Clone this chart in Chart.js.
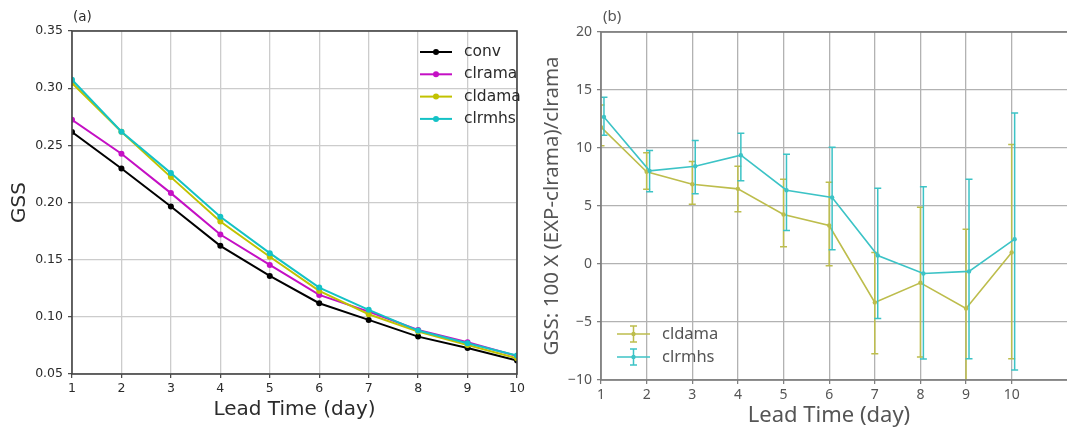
<!DOCTYPE html>
<html>
<head>
<meta charset="utf-8">
<script src="https://cdn.jsdelivr.net/npm/chart.js@4.4.0/dist/chart.umd.min.js"></script>
<style>
html, body { margin: 0; padding: 0; background: #fff; overflow: hidden; }
#wrap { position: relative; width: 1067px; height: 429px; overflow: hidden; }
#gssChart { position: absolute; left: 0; top: 0; }
#pctChart { position: absolute; left: 540px; top: 0; }
</style>
</head>
<body>
<div id="wrap">
  <canvas id="gssChart" width="540" height="429"></canvas>
  <canvas id="pctChart" width="535" height="429"></canvas>
</div>
<script>
// lead time in days
const days = [1, 2, 3, 4, 5, 6, 7, 8, 9, 10];

// (a) GSS per experiment
const gssConv   = [0.2616, 0.2298, 0.1965, 0.1621, 0.1358, 0.1119, 0.0973, 0.0827, 0.0728, 0.0617];
const gssClrama = [0.2724, 0.2426, 0.2082, 0.1720, 0.1454, 0.1192, 0.1046, 0.0885, 0.0778, 0.0658];
const gssCldama = [0.3045, 0.2619, 0.2222, 0.1834, 0.1525, 0.1227, 0.1023, 0.0871, 0.0754, 0.0637];
const gssClrmhs = [0.3074, 0.2619, 0.2257, 0.1875, 0.1557, 0.1256, 0.1061, 0.0880, 0.0769, 0.0661];

// (b) relative change vs clrama (%), with error bar bounds
const pctCldama   = [11.8, 7.95, 6.88, 6.48, 4.27, 3.32, -3.31, -1.62, -3.83, 1.0];
const pctCldamaLo = [10.2, 6.45, 5.16, 4.50, 1.48, -0.15, -7.73, -8.02, -10.6, -8.17];
const pctCldamaHi = [13.7, 9.58, 8.83, 8.43, 7.31, 7.05, 1.00, 4.90, 3.00, 10.3];
const pctClrmhs   = [12.68, 8.03, 8.43, 9.38, 6.36, 5.73, 0.73, -0.82, -0.64, 2.14];
const pctClrmhsLo = [11.1, 6.22, 6.05, 7.17, 2.89, 1.22, -4.69, -8.19, -8.17, -9.14];
const pctClrmhsHi = [14.37, 9.78, 10.64, 11.27, 9.46, 10.07, 6.53, 6.65, 7.31, 13.02];

// clrmhs is nudged right so its bars don't sit on cldama's
const clrmhsShift = 0.065;

const tickMin = -10, tickMax = 20;

Chart.defaults.animation = false;

const minus = v => String(v).replace('-', '\u2212');

// box around the plot area (all four spines)
const framePlugin = {
    id: 'frame',
    afterDraw(chart, args, opts) {
        const a = chart.chartArea;
        const ctx = chart.ctx;
        ctx.save();
        ctx.strokeStyle = opts.color;
        ctx.lineWidth = opts.width;
        ctx.strokeRect(a.left, a.top, a.right - a.left, a.bottom - a.top);
        ctx.restore();
    }
};

// free text items: panel tag like "(a)", captions
const textPlugin = {
    id: 'panelText',
    afterDraw(chart, args, opts) {
        const ctx = chart.ctx;
        ctx.save();
        ctx.textBaseline = 'middle';
        opts.items.forEach(t => {
            ctx.font = t.font;
            ctx.fillStyle = t.color;
            ctx.textAlign = t.align || 'left';
            ctx.fillText(t.text, t.x, t.y);
        });
        ctx.restore();
    }
};

// vertical error bars with caps, drawn under each dataset's line
const errorBarPlugin = {
    id: 'errorBars',
    beforeDatasetDraw(chart, args, opts) {
        const ds = chart.data.datasets[args.index];
        if (!ds.errLo) return;
        const y = chart.scales.y;
        const a = chart.chartArea;
        const ctx = chart.ctx;
        ctx.save();
        ctx.beginPath();
        ctx.rect(a.left, a.top, a.right - a.left, a.bottom - a.top);
        ctx.clip();
        ctx.strokeStyle = ds.borderColor;
        ctx.lineWidth = opts.width;
        args.meta.data.forEach((pt, i) => {
            const y0 = y.getPixelForValue(ds.errLo[i]);
            const y1 = y.getPixelForValue(ds.errHi[i]);
            ctx.beginPath();
            ctx.moveTo(pt.x, y0);
            ctx.lineTo(pt.x, y1);
            ctx.moveTo(pt.x - opts.cap, y0);
            ctx.lineTo(pt.x + opts.cap, y0);
            ctx.moveTo(pt.x - opts.cap, y1);
            ctx.lineTo(pt.x + opts.cap, y1);
            ctx.stroke();
        });
        ctx.restore();
    }
};

// simple matplotlib-like legend
const legendPlugin = {
    id: 'mplLegend',
    afterDraw(chart, args, opts) {
        const ctx = chart.ctx;
        ctx.save();
        ctx.font = opts.font;
        ctx.textBaseline = 'middle';
        chart.data.datasets.forEach((ds, i) => {
            const y = opts.y + i * opts.gap;
            const x0 = opts.x, x1 = opts.x + opts.len, xm = (x0 + x1) / 2;
            ctx.strokeStyle = ds.borderColor;
            ctx.fillStyle = ds.borderColor;
            ctx.lineWidth = ds.borderWidth;
            ctx.beginPath();
            ctx.moveTo(x0, y);
            ctx.lineTo(x1, y);
            ctx.stroke();
            if (opts.errorGlyph) {
                ctx.lineWidth = 1.5;
                ctx.beginPath();
                ctx.moveTo(xm, y - 8); ctx.lineTo(xm, y + 8);
                ctx.moveTo(xm - 3.5, y - 8); ctx.lineTo(xm + 3.5, y - 8);
                ctx.moveTo(xm - 3.5, y + 8); ctx.lineTo(xm + 3.5, y + 8);
                ctx.stroke();
            }
            ctx.beginPath();
            ctx.arc(xm, y, ds.pointRadius, 0, Math.PI * 2);
            ctx.fill();
            ctx.fillStyle = opts.color;
            ctx.fillText(ds.label, x1 + opts.textGap, y);
        });
        ctx.restore();
    }
};

function lineSet(label, values, color, order) {
    return {
        label: label,
        data: values,
        borderColor: color,
        backgroundColor: color,
        borderWidth: 2,
        pointRadius: 3,
        pointBorderWidth: 0,
        pointBackgroundColor: color,
        tension: 0,
        order: order
    };
}

// ---------- (a) GSS ----------
const fontA = 'DejaVu Sans';
const textA = '#2b2b2b';
new Chart(document.getElementById('gssChart'), {
    type: 'line',
    data: {
        labels: days,
        datasets: [
            lineSet('conv', gssConv, '#000000', 3),
            lineSet('clrama', gssClrama, '#c40fc4', 2),
            lineSet('cldama', gssCldama, '#c2c200', 1),
            lineSet('clrmhs', gssClrmhs, '#14c2c6', 0)
        ]
    },
    options: {
        responsive: false,
        layout: { padding: { top: 31, right: 23, left: 0, bottom: 0 } },
        plugins: {
            legend: { display: false },
            tooltip: { enabled: false },
            frame: { color: '#444444', width: 1.6 },
            panelText: { items: [
                { text: '(a)', x: 73, y: 17, font: '13.5px "DejaVu Sans"', color: textA }
            ] },
            mplLegend: { x: 420, y: 52, gap: 22.3, len: 32, textGap: 12,
                         font: '15.5px "DejaVu Sans"', color: textA }
        },
        scales: {
            x: {
                type: 'linear',
                min: 1, max: 10,
                afterFit: s => { s.height = 55; },
                ticks: { stepSize: 1, autoSkip: false, maxRotation: 0, padding: 3,
                         color: textA, font: { family: fontA, size: 12.5 } },
                grid: { color: '#cccccc', lineWidth: 1.3, tickLength: 4,
                        tickColor: '#444444', tickWidth: 1.2 },
                border: { display: false },
                title: { display: true, text: 'Lead Time (day)', color: textA,
                         font: { family: fontA, size: 20 }, padding: { top: 0, bottom: 7 } }
            },
            y: {
                min: 0.05, max: 0.35,
                afterFit: s => { s.width = 72; },
                ticks: { stepSize: 0.05, padding: 5, color: textA,
                         font: { family: fontA, size: 12.5 },
                         callback: v => v.toFixed(2) },
                grid: { color: '#cccccc', lineWidth: 1.3, tickLength: 4,
                        tickColor: '#444444', tickWidth: 1.2 },
                border: { display: false },
                title: { display: true, text: 'GSS', color: textA,
                         font: { family: fontA, size: 20 }, padding: { top: 8, bottom: 0 } }
            }
        }
    },
    plugins: [framePlugin, textPlugin, legendPlugin]
});

// ---------- (b) relative GSS change ----------
const fontB = 'Noto Sans';
const textB = '#555555';
const olive = '#bdbd4c';
const teal = '#3cc3c6';

function errSet(label, xs, values, lo, hi, color, order) {
    return {
        label: label,
        data: xs.map((x, i) => ({ x: x, y: values[i] })),
        errLo: lo,
        errHi: hi,
        borderColor: color,
        backgroundColor: color,
        borderWidth: 1.6,
        pointRadius: 2.2,
        pointBorderWidth: 0,
        pointBackgroundColor: color,
        tension: 0,
        order: order
    };
}

new Chart(document.getElementById('pctChart'), {
    type: 'line',
    data: {
        datasets: [
            errSet('cldama', days, pctCldama, pctCldamaLo, pctCldamaHi, olive, 1),
            errSet('clrmhs', days.map(d => d + clrmhsShift), pctClrmhs, pctClrmhsLo, pctClrmhsHi, teal, 0)
        ]
    },
    options: {
        responsive: false,
        layout: { padding: { top: 32, right: 3, left: 0, bottom: 0 } },
        plugins: {
            legend: { display: false },
            tooltip: { enabled: false },
            frame: { color: '#7a7a7a', width: 1.6 },
            panelText: { items: [
                { text: '(b)', x: 63, y: 17, font: '15px "Noto Sans"', color: textB },
                // x-axis caption, centred under the plot
                { text: 'Lead Time (day)', x: 289, y: 416, align: 'center',
                  font: '22px "Noto Sans"', color: textB }
            ] },
            errorBars: { width: 1.5, cap: 3.5 },
            mplLegend: { x: 77, y: 334, gap: 23, len: 33, textGap: 12, errorGlyph: true,
                         font: '16.5px "Noto Sans"', color: textB }
        },
        scales: {
            x: {
                type: 'linear',
                min: 1, max: 11.3,
                afterFit: s => { s.height = 49; },
                afterBuildTicks: s => { s.ticks = days.map(d => ({ value: d })); },
                ticks: { autoSkip: false, maxRotation: 0, padding: 3,
                         color: textB, font: { family: fontB, size: 14 } },
                grid: { color: '#b2b2b2', lineWidth: 1.3, tickLength: 4,
                        tickColor: '#7a7a7a', tickWidth: 1.2 },
                border: { display: false }
            },
            y: {
                min: tickMin, max: tickMax,
                afterFit: s => { s.width = 61; },
                ticks: { stepSize: 5, padding: 5, color: textB,
                         font: { family: fontB, size: 14 },
                         callback: v => minus(v) },
                grid: { color: '#b2b2b2', lineWidth: 1.3, tickLength: 4,
                        tickColor: '#7a7a7a', tickWidth: 1.2 },
                border: { display: false },
                title: { display: true, text: 'GSS: 100 X (EXP-clrama)/clrama', color: textB,
                         font: { family: fontB, size: 20.5 }, padding: { top: 0, bottom: 0 } }
            }
        }
    },
    plugins: [framePlugin, textPlugin, errorBarPlugin, legendPlugin]
});
</script>
</body>
</html>
